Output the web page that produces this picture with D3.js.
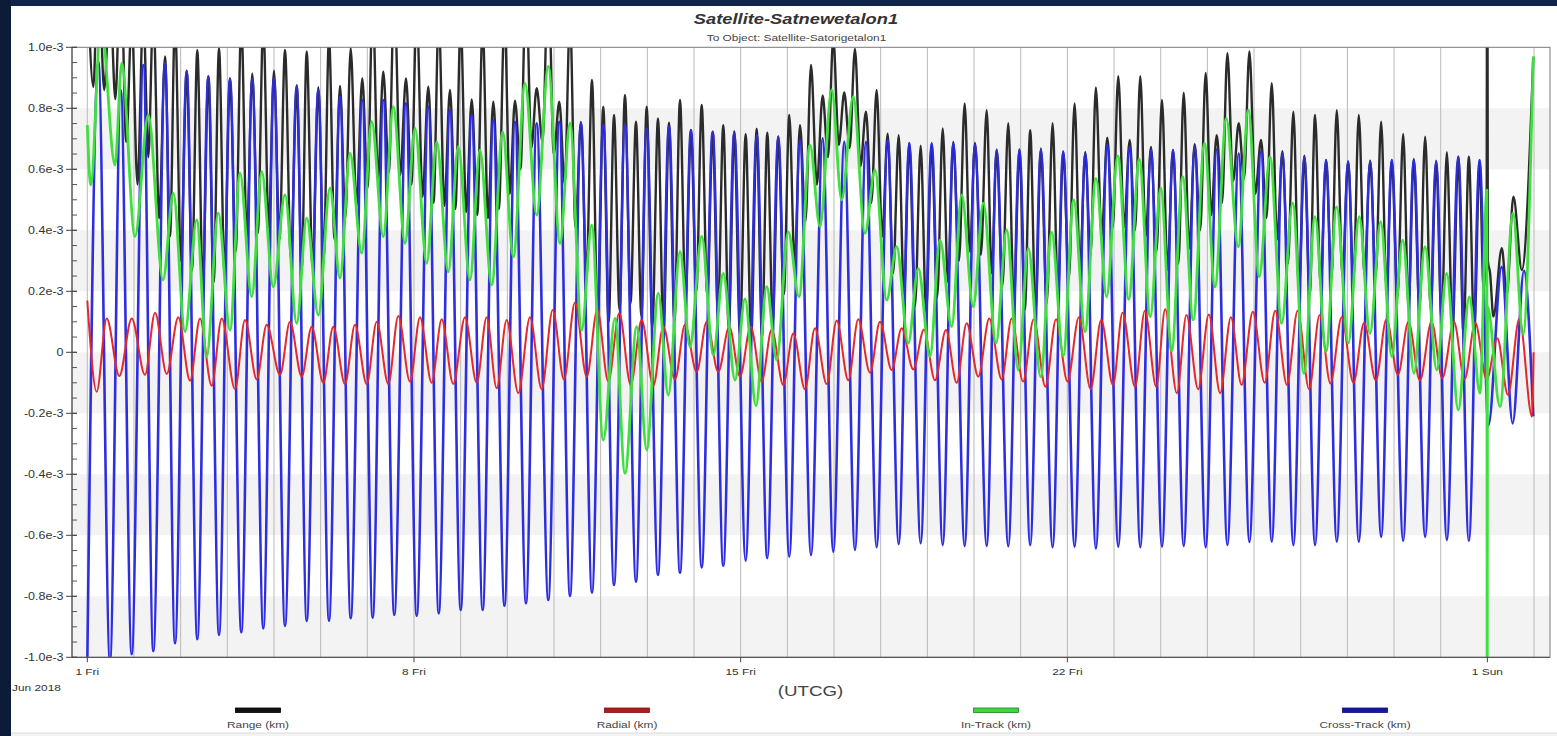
<!DOCTYPE html>
<html>
<head>
<meta charset="utf-8">
<script src="https://cdn.jsdelivr.net/npm/d3@7"></script>
<style>
  html, body { margin: 0; padding: 0; background: #10244a; }
  svg { display: block; }
</style>
</head>
<body>
<svg id="chart" width="1557" height="736"></svg>
<script>
// Relative position of Satnewetalon1 w.r.t. Satorigetalon1, June 2018.
// Times are days after 2018-06-01 00:00 UTCG, values are in units of 1e-3 km.

const epochMs = Date.UTC(2018, 5, 1);
const dayTicks = [0, 7, 14, 21, 30];
const dayTickLabels = ["1 Fri", "8 Fri", "15 Fri", "22 Fri", "1 Sun"];
const gridDays = d3.range(0, 32);
const valueTicks = [-1.0, -0.8, -0.6, -0.4, -0.2, 0, 0.2, 0.4, 0.6, 0.8, 1.0];
const valueTickLabels = ["-1.0e-3", "-0.8e-3", "-0.6e-3", "-0.4e-3", "-0.2e-3", "0",
                         "0.2e-3", "0.4e-3", "0.6e-3", "0.8e-3", "1.0e-3"];
const shadedBands = [[0.6, 0.8], [0.2, 0.4], [-0.2, 0.0], [-0.6, -0.4], [-1.0, -0.8]];
const legendNames = ["Range (km)", "Radial (km)", "In-Track (km)", "Cross-Track (km)"];

// Cross-Track (km): extrema of each revolution
const crossTrack = [
[0.000,-1.02],[0.236,0.953],[0.486,-1.01],[0.716,0.860],[0.951,-0.99],[1.200,0.942],[1.414,-0.98],[1.665,0.948],
[1.879,-0.954],[2.130,0.920],[2.357,-0.941],[2.593,0.904],[2.822,-0.927],[3.058,0.896],[3.300,-0.918],[3.535,0.896],
[3.771,-0.905],[4.000,0.898],[4.236,-0.897],[4.487,0.871],[4.701,-0.881],[4.950,0.860],[5.179,-0.880],[5.415,0.838],
[5.644,-0.872],[5.892,0.827],[6.115,-0.870],[6.342,0.827],[6.578,-0.861],[6.829,0.816],[7.058,-0.864],[7.307,0.805],
[7.530,-0.856],[7.771,0.794],[8.001,-0.845],[8.237,0.778],[8.472,-0.845],[8.699,0.761],[8.939,-0.831],[9.164,0.756],
[9.400,-0.823],[9.629,0.751],[9.878,-0.812],[10.114,0.756],[10.343,-0.799],[10.578,0.751],[10.814,-0.788],[11.056,0.745],
[11.286,-0.763],[11.521,0.745],[11.757,-0.752],[11.986,0.734],[12.228,-0.730],[12.464,0.740],[12.700,-0.723],[12.935,0.729],
[13.165,-0.705],[13.400,0.723],[13.627,-0.700],[13.863,0.718],[14.107,-0.683],[14.343,0.712],[14.570,-0.675],[14.806,0.707],
[15.042,-0.670],[15.271,0.696],[15.507,-0.665],[15.757,0.702],[15.984,-0.654],[16.220,0.690],[16.449,-0.648],[16.685,0.690],
[16.914,-0.639],[17.150,0.696],[17.386,-0.629],[17.613,0.685],[17.857,-0.626],[18.093,0.685],[18.329,-0.632],[18.556,0.685],
[18.800,-0.635],[19.021,0.680],[19.272,-0.635],[19.486,0.663],[19.734,-0.636],[19.974,0.663],[20.204,-0.632],[20.433,0.663],
[20.684,-0.639],[20.911,0.658],[21.155,-0.637],[21.384,0.652],[21.611,-0.643],[21.856,0.680],[22.091,-0.637],[22.336,0.674],
[22.563,-0.639],[22.792,0.663],[23.028,-0.637],[23.264,0.663],[23.493,-0.635],[23.729,0.674],[23.964,-0.639],[24.200,0.665],
[24.429,-0.632],[24.672,0.652],[24.901,-0.622],[25.151,0.660],[25.380,-0.621],[25.608,0.652],[25.843,-0.632],[26.079,0.641],
[26.308,-0.632],[26.544,0.630],[26.773,-0.621],[27.016,0.625],[27.245,-0.621],[27.489,0.625],[27.724,-0.605],[27.952,0.630],
[28.196,-0.618],[28.423,0.630],[28.667,-0.605],[28.903,0.625],[29.132,-0.615],[29.376,0.641],[29.603,-0.618],[29.833,0.630],
[30.021,-0.240],[30.306,0.280],[30.542,-0.233],[30.784,0.267],[30.983,-0.210]
];

// Radial (km)
const radial = [
[0.000,0.170],[0.201,-0.129],[0.416,0.111],[0.686,-0.078],[0.951,0.111],[1.236,-0.074],[1.451,0.130],[1.701,-0.071],
[1.950,0.115],[2.201,-0.093],[2.415,0.111],[2.665,-0.110],[2.880,0.111],[3.165,-0.121],[3.379,0.106],[3.630,-0.089],
[3.844,0.090],[4.129,-0.074],[4.343,0.100],[4.594,-0.080],[4.808,0.084],[5.057,-0.100],[5.271,0.084],[5.522,-0.104],
[5.736,0.090],[5.987,-0.104],[6.201,0.100],[6.450,-0.104],[6.664,0.119],[6.914,-0.096],[7.129,0.115],[7.379,-0.100],
[7.594,0.108],[7.842,-0.104],[8.093,0.115],[8.344,-0.100],[8.558,0.115],[8.772,-0.118],[8.986,0.106],[9.235,-0.134],
[9.486,0.115],[9.736,-0.121],[9.972,0.139],[10.214,-0.089],[10.450,0.163],[10.701,-0.080],[10.928,0.139],[11.163,-0.096],
[11.399,0.128],[11.644,-0.107],[11.879,0.106],[12.128,-0.110],[12.342,0.084],[12.593,-0.089],[12.807,0.090],[13.058,-0.064],
[13.272,0.100],[13.520,-0.064],[13.756,0.084],[13.985,-0.080],[14.215,0.084],[14.450,-0.096],[14.665,0.075],[14.913,-0.107],
[15.127,0.062],[15.378,-0.121],[15.592,0.079],[15.843,-0.104],[16.057,0.104],[16.306,-0.092],[16.520,0.108],[16.771,-0.067],
[16.985,0.100],[17.236,-0.058],[17.450,0.079],[17.699,-0.056],[17.928,0.075],[18.163,-0.092],[18.399,0.073],[18.628,-0.100],
[18.843,0.095],[19.091,-0.080],[19.327,0.111],[19.593,-0.089],[19.807,0.111],[20.051,-0.096],[20.278,0.108],[20.531,-0.113],
[20.758,0.108],[21.003,-0.096],[21.247,0.115],[21.498,-0.121],[21.725,0.106],[21.978,-0.107],[22.183,0.130],[22.449,-0.113],
[22.661,0.136],[22.905,-0.113],[23.096,0.141],[23.347,-0.134],[23.552,0.122],[23.803,-0.121],[24.032,0.124],[24.274,-0.134],
[24.504,0.115],[24.733,-0.107],[24.975,0.133],[25.228,-0.100],[25.455,0.136],[25.706,-0.107],[25.935,0.136],[26.179,-0.121],
[26.407,0.122],[26.636,-0.102],[26.878,0.115],[27.131,-0.100],[27.358,0.097],[27.609,-0.092],[27.838,0.108],[28.082,-0.074],
[28.309,0.100],[28.554,-0.092],[28.804,0.100],[29.034,-0.085],[29.284,0.100],[29.511,-0.089],[29.740,0.097],[29.985,-0.089],
[30.212,0.046],[30.442,-0.140],[30.686,0.111],[30.958,-0.211],[30.990,0.000]
];

// In-Track (km)
const inTrack = [
[0.000,0.745],[0.073,0.549],[0.294,1.080],[0.594,0.614],[0.737,0.948],[1.022,0.380],[1.307,0.778],[1.622,0.237],
[1.843,0.522],[2.093,0.068],[2.344,0.434],[2.558,-0.014],[2.807,0.456],[3.058,0.073],[3.272,0.587],[3.523,0.182],
[3.737,0.592],[3.985,0.215],[4.236,0.516],[4.487,0.095],[4.701,0.440],[4.950,0.122],[5.200,0.538],[5.415,0.243],
[5.629,0.652],[5.880,0.325],[6.094,0.756],[6.342,0.379],[6.557,0.805],[6.807,0.357],[7.022,0.734],[7.272,0.292],
[7.487,0.690],[7.735,0.264],[7.949,0.674],[8.200,0.237],[8.414,0.663],[8.665,0.221],[8.901,0.723],[9.128,0.313],
[9.379,0.882],[9.629,0.450],[9.878,0.937],[10.129,0.357],[10.343,0.751],[10.593,0.073],[10.808,0.417],[11.056,-0.288],
[11.307,0.111],[11.521,-0.397],[11.772,0.084],[11.986,-0.320],[12.235,0.193],[12.449,-0.140],[12.700,0.330],[12.914,0.018],
[13.165,0.380],[13.413,-0.009],[13.627,0.259],[13.878,-0.091],[14.092,0.175],[14.328,-0.175],[14.557,0.215],[14.772,-0.025],
[15.020,0.395],[15.250,0.182],[15.485,0.680],[15.699,0.412],[15.950,0.860],[16.164,0.500],[16.413,0.838],[16.664,0.390],
[16.878,0.598],[17.128,0.171],[17.343,0.346],[17.591,0.030],[17.806,0.275],[18.057,-0.014],[18.271,0.368],[18.522,0.084],
[18.736,0.516],[18.984,0.150],[19.199,0.489],[19.471,0.030],[19.700,0.401],[19.948,-0.058],[20.163,0.341],[20.429,-0.080],
[20.664,0.393],[20.913,-0.011],[21.135,0.500],[21.378,0.068],[21.613,0.570],[21.842,0.182],[22.080,0.644],[22.316,0.174],
[22.541,0.633],[22.777,0.117],[23.000,0.538],[23.235,0.005],[23.471,0.576],[23.698,0.106],[23.938,0.685],[24.163,0.215],
[24.405,0.767],[24.662,0.346],[24.877,0.794],[25.112,0.248],[25.342,0.641],[25.592,0.095],[25.828,0.489],[26.070,-0.069],
[26.306,0.445],[26.542,0.002],[26.771,0.477],[27.020,0.030],[27.255,0.445],[27.485,0.062],[27.714,0.428],[27.950,-0.014],
[28.186,0.368],[28.427,-0.069],[28.663,0.346],[28.914,-0.058],[29.128,0.259],[29.376,-0.189],[29.612,0.182],[29.841,-0.134],
[29.989,0.532],[29.996,-1.300],[30.003,0.150],[30.270,-0.178],[30.548,0.456],[30.763,0.060],[30.984,0.969]
];

// Range (km)
const range = [
[0.000,1.25],[0.129,0.87],[0.236,1.30],[0.361,0.86],[0.486,1.18],[0.601,0.83],[0.716,1.28],[0.834,0.69],
[0.951,1.09],[1.076,0.55],[1.200,1.12],[1.307,0.64],[1.414,1.12],[1.540,0.44],[1.665,0.970],[1.772,0.38],
[1.879,1.09],[2.005,0.30],[2.130,0.923],[2.244,0.27],[2.357,0.991],[2.475,0.22],[2.593,0.905],[2.708,0.23],
[2.822,0.997],[2.940,0.26],[3.058,0.899],[3.179,0.33],[3.300,1.08],[3.418,0.38],[3.535,0.914],[3.653,0.39],
[3.771,1.08],[3.886,0.41],[4.000,0.923],[4.118,0.37],[4.236,0.991],[4.362,0.31],[4.487,0.876],[4.594,0.27],
[4.701,0.986],[4.826,0.28],[4.950,0.869],[5.065,0.31],[5.179,1.03],[5.297,0.37],[5.415,0.873],[5.530,0.44],
[5.644,0.997],[5.768,0.48],[5.892,0.898],[6.004,0.54],[6.115,1.15],[6.229,0.57],[6.342,0.920],[6.460,0.59],
[6.578,1.18],[6.704,0.58],[6.829,0.898],[6.944,0.55],[7.058,1.13],[7.183,0.51],[7.307,0.871],[7.419,0.49],
[7.530,1.10],[7.651,0.48],[7.771,0.860],[7.886,0.47],[8.001,1.08],[8.119,0.46],[8.237,0.829],[8.355,0.45],
[8.472,1.07],[8.586,0.44],[8.699,0.822],[8.819,0.47],[8.939,1.10],[9.052,0.52],[9.164,0.825],[9.282,0.60],
[9.400,1.21],[9.515,0.67],[9.629,0.866],[9.754,0.69],[9.878,1.24],[9.996,0.65],[10.114,0.822],[10.229,0.55],
[10.343,1.10],[10.461,0.41],[10.578,0.755],[10.696,0.25],[10.814,0.893],[10.935,0.10],[11.056,0.805],[11.171,0.10],
[11.286,0.778],[11.404,0.14],[11.521,0.844],[11.639,0.16],[11.757,0.756],[11.872,0.12],[11.986,0.805],[12.107,0.08],
[12.228,0.767],[12.346,0.06],[12.464,0.753],[12.582,0.10],[12.700,0.827],[12.818,0.17],[12.935,0.729],[13.050,0.20],
[13.165,0.811],[13.283,0.19],[13.400,0.723],[13.514,0.13],[13.627,0.745],[13.745,0.08],[13.863,0.724],[13.985,0.06],
[14.107,0.715],[14.225,0.05],[14.343,0.733],[14.457,0.05],[14.570,0.720],[14.688,0.10],[14.806,0.707],[14.924,0.19],
[15.042,0.778],[15.157,0.29],[15.271,0.745],[15.389,0.43],[15.507,0.942],[15.632,0.55],[15.757,0.842],[15.871,0.64],
[15.984,1.03],[16.102,0.68],[16.220,0.852],[16.335,0.67],[16.449,0.995],[16.567,0.61],[16.685,0.789],[16.800,0.49],
[16.914,0.860],[17.032,0.38],[17.150,0.717],[17.268,0.26],[17.386,0.712],[17.500,0.19],[17.613,0.686],[17.735,0.15],
[17.857,0.677],[17.975,0.13],[18.093,0.685],[18.211,0.18],[18.329,0.734],[18.443,0.23],[18.556,0.690],[18.678,0.30],
[18.800,0.816],[18.911,0.33],[19.021,0.686],[19.147,0.32],[19.272,0.794],[19.379,0.26],[19.486,0.664],[19.610,0.22],
[19.734,0.751],[19.854,0.17],[19.974,0.666],[20.089,0.14],[20.204,0.728],[20.319,0.13],[20.433,0.668],[20.559,0.16],
[20.684,0.751],[20.798,0.19],[20.911,0.658],[21.033,0.24],[21.155,0.816],[21.270,0.28],[21.384,0.656],[21.498,0.32],
[21.611,0.868],[21.734,0.38],[21.856,0.704],[21.974,0.41],[22.091,0.905],[22.214,0.41],[22.336,0.696],[22.450,0.40],
[22.563,0.905],[22.678,0.38],[22.792,0.673],[22.910,0.33],[23.028,0.827],[23.146,0.27],[23.264,0.663],[23.379,0.29],
[23.493,0.851],[23.611,0.34],[23.729,0.682],[23.847,0.40],[23.964,0.916],[24.082,0.45],[24.200,0.712],[24.315,0.49],
[24.429,0.981],[24.551,0.56],[24.672,0.751],[24.787,0.57],[24.901,0.986],[25.026,0.52],[25.151,0.696],[25.266,0.44],
[25.380,0.882],[25.494,0.37],[25.608,0.659],[25.726,0.29],[25.843,0.789],[25.961,0.21],[26.079,0.645],[26.194,0.19],
[26.308,0.778],[26.426,0.22],[26.544,0.630],[26.659,0.24],[26.773,0.794],[26.895,0.25],[27.016,0.626],[27.131,0.24],
[27.245,0.778],[27.367,0.25],[27.489,0.628],[27.607,0.25],[27.724,0.756],[27.838,0.21],[27.952,0.630],[28.074,0.18],
[28.196,0.716],[28.310,0.15],[28.423,0.634],[28.545,0.14],[28.667,0.707],[28.785,0.14],[28.903,0.628],[29.018,0.10],
[29.132,0.656],[29.254,0.07],[29.376,0.641],[29.490,0.06],[29.603,0.641],[29.718,0.06],[29.833,0.630],[29.920,0.20],
[29.985,0.530],[29.993,1.40],[30.001,1.40],[30.010,0.30],[30.058,0.260],[30.129,0.117],[30.309,0.341],[30.416,0.190],
[30.558,0.510],[30.738,0.270],[30.984,0.969]
];

const seriesStyles = [
  { name: legendNames[0], data: range,      stroke: "#2b2b2b", width: 2.4, swatch: "#111111", swatchEdge: "#000000" },
  { name: legendNames[3], data: crossTrack, stroke: "#2e2ee0", width: 2.6, swatch: "#1616a2", swatchEdge: "#0d0d70" },
  { name: legendNames[1], data: radial,     stroke: "#e5282c", width: 2.0, swatch: "#b31c1c", swatchEdge: "#7a1010" },
  { name: legendNames[2], data: inTrack,    stroke: "#3fdf3f", width: 2.8, swatch: "#3ed83e", swatchEdge: "#1f7f1f" }
];
const legendOrder = [0, 2, 3, 1]; // Range, Radial, In-Track, Cross-Track

// ---------------------------------------------------------------
const W = 1557, H = 736;
const plot = { left: 72, right: 1550, top: 47.3, bottom: 657.3 };
const dayMs = 86400000;
const toDate = d => new Date(epochMs + d * dayMs);

const svg = d3.select("#chart");
const font = "'Liberation Sans', Arial, Helvetica, sans-serif";
const stretch = 1.25;   // text is drawn slightly wide

// dark surround and white panel
svg.append("rect").attr("x", 0).attr("y", 0).attr("width", W).attr("height", H).attr("fill", "#10244a");
svg.append("rect").attr("x", 0).attr("y", 0).attr("width", 11).attr("height", H).attr("fill", "#0c1b38");
svg.append("rect").attr("x", 11).attr("y", 6).attr("width", W - 11).attr("height", H - 6).attr("fill", "#ffffff");
svg.append("rect").attr("x", 11).attr("y", 733).attr("width", W - 11).attr("height", 3).attr("fill", "#f3f3f3");
svg.append("line").attr("x1", 11).attr("x2", W).attr("y1", 733).attr("y2", 733).attr("stroke", "#dcdcdc");

const x = d3.scaleUtc()
  .domain([toDate(-0.328), toDate(31.342)])
  .range([plot.left, plot.right]);
const y = d3.scaleLinear().domain([-1, 1]).range([plot.bottom, plot.top]);

function label(g, txt, px, py, opts = {}) {
  const t = g.append("text")
    .attr("transform", `translate(${px},${py}) scale(${opts.stretch || stretch},1)`)
    .attr("text-anchor", opts.anchor || "middle")
    .attr("font-family", font)
    .attr("font-size", opts.size || 10)
    .attr("fill", opts.fill || "#333")
    .text(txt);
  if (opts.weight) t.attr("font-weight", opts.weight);
  if (opts.style) t.attr("font-style", opts.style);
  return t;
}

// shaded value bands
const bg = svg.append("g");
bg.selectAll("rect.band").data(shadedBands).join("rect")
  .attr("x", plot.left).attr("width", plot.right - plot.left)
  .attr("y", d => y(d[1])).attr("height", d => y(d[0]) - y(d[1]))
  .attr("fill", "#f3f3f3");

// daily grid
bg.selectAll("line.grid").data(gridDays).join("line")
  .attr("x1", d => x(toDate(d))).attr("x2", d => x(toDate(d)))
  .attr("y1", plot.top).attr("y2", plot.bottom)
  .attr("stroke", "#b9b9b9").attr("stroke-width", 1);

// series
svg.append("clipPath").attr("id", "plotClip").append("rect")
  .attr("x", plot.left).attr("y", plot.top)
  .attr("width", plot.right - plot.left).attr("height", plot.bottom - plot.top);

const line = d3.line()
  .x(d => x(toDate(d[0])))
  .y(d => y(d[1]))
  .curve(d3.curveMonotoneX);

const lines = svg.append("g").attr("clip-path", "url(#plotClip)");
seriesStyles.forEach(s => {
  lines.append("path")
    .datum(s.data)
    .attr("fill", "none")
    .attr("stroke", s.stroke)
    .attr("stroke-width", s.width)
    .attr("stroke-linejoin", "round")
    .attr("d", line);
});

// frame
svg.append("rect")
  .attr("x", plot.left).attr("y", plot.top)
  .attr("width", plot.right - plot.left).attr("height", plot.bottom - plot.top)
  .attr("fill", "none").attr("stroke", "#7a7a7a").attr("stroke-width", 1);
svg.append("line").attr("x1", plot.left).attr("x2", plot.right)
  .attr("y1", plot.bottom).attr("y2", plot.bottom).attr("stroke", "#4a4a4a");
svg.append("line").attr("x1", plot.left).attr("x2", plot.left)
  .attr("y1", plot.top).attr("y2", plot.bottom).attr("stroke", "#4a4a4a");

// y axis ticks
const axisG = svg.append("g");
const minorTicks = d3.range(-1.0, 1.0001, 0.05).map(v => +v.toFixed(2));
axisG.selectAll("line.minor").data(minorTicks).join("line")
  .attr("x1", plot.left).attr("x2", plot.left + 5)
  .attr("y1", d => y(d)).attr("y2", d => y(d))
  .attr("stroke", "#555");
axisG.selectAll("line.major").data(valueTicks).join("line")
  .attr("x1", plot.left - 6).attr("x2", plot.left + 5)
  .attr("y1", d => y(d)).attr("y2", d => y(d))
  .attr("stroke", "#444");
valueTicks.forEach((v, i) => label(axisG, valueTickLabels[i], 63.5, y(v) + 3.5, { anchor: "end", size: 10 }));

// x axis ticks
dayTicks.forEach((d, i) => {
  const px = x(toDate(d));
  axisG.append("line").attr("x1", px).attr("x2", px)
    .attr("y1", plot.bottom).attr("y2", plot.bottom + 5).attr("stroke", "#444");
  label(axisG, dayTickLabels[i], px, 675, { size: 9.5 });
});
label(axisG, "Jun 2018", 12, 691, { anchor: "start", size: 9.5 });
label(axisG, "(UTCG)", 810.5, 696, { size: 15, fill: "#444" });

// titles
label(svg, "Satellite-Satnewetalon1", 796, 24, { size: 15, weight: "bold", style: "italic", fill: "#333", stretch: 1.22 });
label(svg, "To Object: Satellite-Satorigetalon1", 796.5, 40.5, { size: 9.5, fill: "#444" });

// legend
const legendCenters = [258, 627, 996, 1365];
const legendG = svg.append("g");
legendOrder.forEach((si, i) => {
  const s = seriesStyles[si];
  const cx = legendCenters[i];
  legendG.append("rect")
    .attr("x", cx - 22.5).attr("y", 708).attr("width", 45).attr("height", 4.5)
    .attr("fill", s.swatch).attr("stroke", s.swatchEdge).attr("stroke-width", 0.8);
  label(legendG, s.name, cx, 728, { size: 9.5, fill: "#444" });
});
</script>
</body>
</html>
